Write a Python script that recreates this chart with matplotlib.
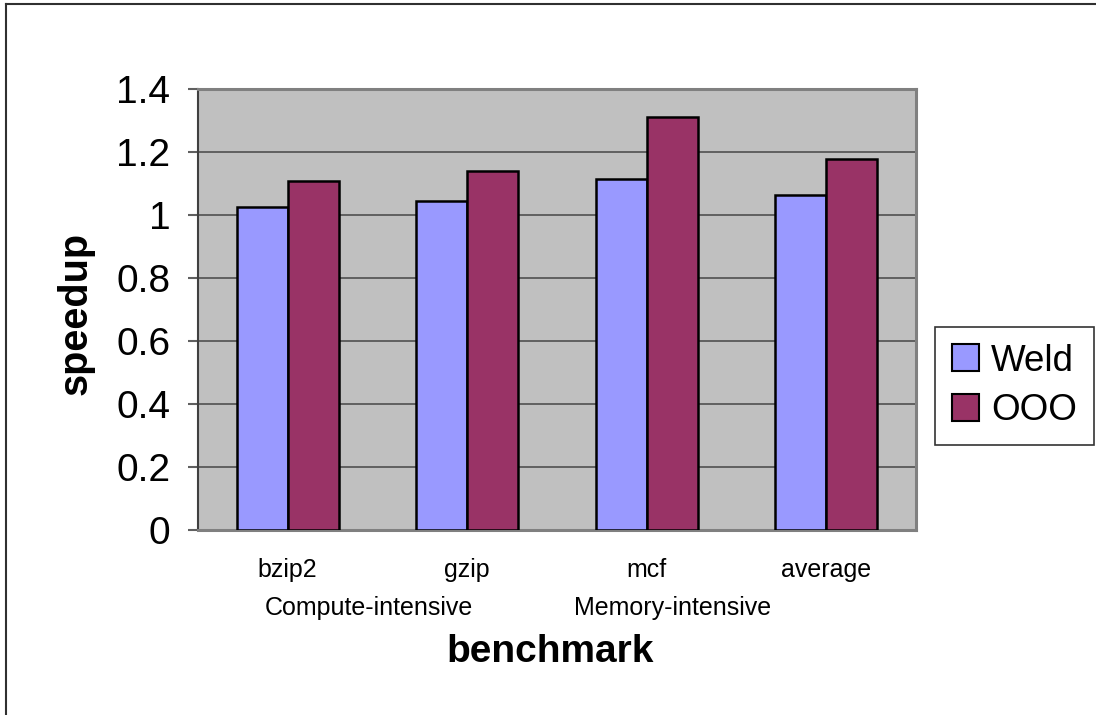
import numpy as np
import matplotlib.pyplot as plt
from matplotlib.lines import Line2D

plt.rcParams['font.family'] = ['Liberation Sans', 'DejaVu Sans']

# Datos
benchmarks = ['bzip2', 'gzip', 'mcf', 'average']
weld = [1.025, 1.044, 1.115, 1.063]
ooo = [1.108, 1.140, 1.312, 1.177]
groups = ['Compute-intensive', 'Memory-intensive']
yticks = [0, 0.2, 0.4, 0.6, 0.8, 1, 1.2, 1.4]

W, H = 1096, 715
fig = plt.figure(figsize=(W / 100, H / 100), dpi=100)
ax = fig.add_axes([198 / W, 1 - 530 / H, (916 - 198) / W, (530 - 89) / H])

x = np.arange(len(benchmarks))
bw = 0.285
ax.bar(x - bw / 2, weld, bw, color='#9999FF', edgecolor='black', linewidth=1.8, label='Weld', zorder=3)
ax.bar(x + bw / 2, ooo, bw, color='#993366', edgecolor='black', linewidth=1.8, label='OOO', zorder=3)

ax.set_facecolor('#C0C0C0')
ax.set_xlim(-0.5, len(benchmarks) - 0.5)
ax.set_ylim(0, 1.4)
ax.set_yticks(yticks)
ax.set_yticklabels([f'{v:g}' for v in yticks], fontsize=28)
ax.yaxis.grid(True, color='#505050', linewidth=1.2, zorder=1)
ax.set_axisbelow(True)
ax.tick_params(axis='y', length=7, width=1.5, color='#606060', pad=13)
ax.set_xticks(x)
ax.set_xticklabels(benchmarks, fontsize=18)
ax.tick_params(axis='x', length=0, pad=20)
for s in ax.spines.values():
    s.set_color('#808080')
    s.set_linewidth(2.2)
ax.spines['left'].set_color('#404040')
ax.spines['left'].set_linewidth(1.5)

# Etiquetas
fig.text(369 / W, 1 - 608 / H, groups[0], fontsize=18, ha='center', va='center')
fig.text(673 / W, 1 - 608 / H, groups[1], fontsize=18, ha='center', va='center')
fig.text(550 / W, 1 - 652 / H, 'benchmark', fontsize=28, fontweight='bold', ha='center', va='center')
fig.text(76 / W, 1 - 313 / H, 'speedup', fontsize=28.5, fontweight='bold', ha='center', va='center', rotation=90)

leg = ax.legend(loc='upper left', bbox_to_anchor=(935 / W, 1 - 327 / H), bbox_transform=fig.transFigure,
                fontsize=26.5, frameon=True, fancybox=False, handlelength=0.75, handleheight=0.75,
                handletextpad=0.33, borderpad=0.45, labelspacing=0.4, borderaxespad=0)
leg.get_frame().set_edgecolor('black')
leg.get_frame().set_linewidth(1.2)
for p in leg.get_patches():
    p.set_linewidth(1.5)

# Borde de la figura
fig.add_artist(Line2D([6 / W, 6 / W], [0, 1 - 4 / H], color='#303030', linewidth=1.5, transform=fig.transFigure))
fig.add_artist(Line2D([6 / W, 1], [1 - 4 / H, 1 - 4 / H], color='#303030', linewidth=1.5, transform=fig.transFigure))

fig.savefig('out.png', dpi=100)
